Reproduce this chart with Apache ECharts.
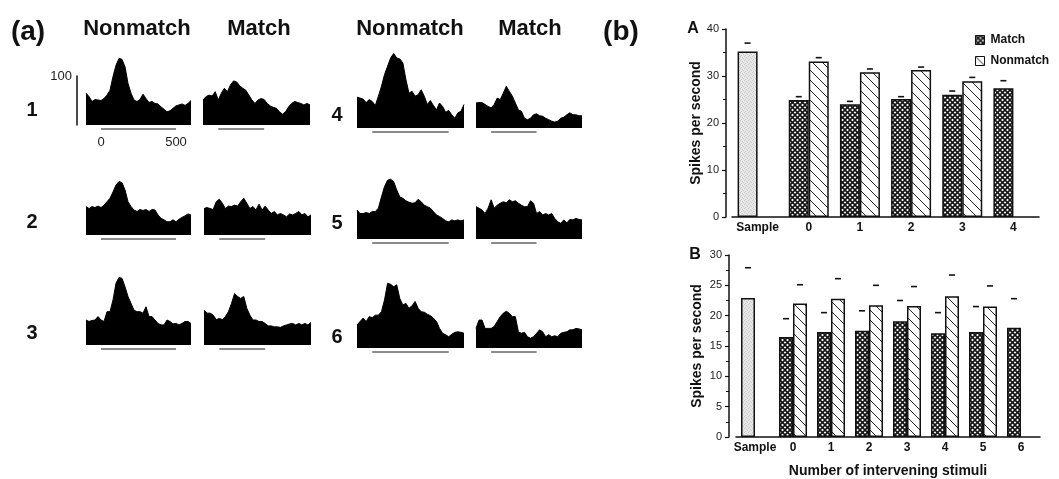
<!DOCTYPE html>
<html>
<head>
<meta charset="utf-8">
<script src="https://cdn.jsdelivr.net/npm/echarts@6/dist/echarts.min.js"></script>
<style>
  html, body { margin: 0; padding: 0; background: #fff; }
  #main { width: 1059px; height: 479px; }
</style>
</head>
<body>
<div id="main"></div>
<script>
// ---- panel (a): peri-stimulus histograms, spikes/s per 20 ms bin starting at -100 ms
var binStart = -100;
var binWidth = 20;
var stimNonmatch = [0, 500];
var stimMatch = [0, 300];

var nonmatch1 = [65,58,48,52,51,50,54,61,71,99,122,136,134,119,85,65,51,48,52,63,54,46,48,44,43,37,32,27,29,34,39,41,43,40,44,50];
var match1    = [51,58,61,59,68,51,65,75,68,82,90,88,80,75,71,61,51,44,51,54,52,44,39,36,34,27,22,27,37,44,48,46,44,41,44,41];
var nonmatch2 = [58,54,58,56,59,56,61,68,75,88,102,109,107,92,68,58,51,48,52,50,52,48,52,51,41,34,31,27,27,31,27,32,36,39,43,41];
var match2    = [54,56,54,52,68,73,65,54,59,58,61,59,68,75,65,54,58,51,63,51,59,51,44,48,41,44,41,37,43,41,44,48,41,44,37,41];
var nonmatch3 = [51,48,50,51,58,51,48,68,68,92,126,138,136,119,99,85,71,68,68,65,78,58,58,51,44,41,41,51,48,43,44,41,44,48,48,44];
var match3    = [71,65,65,61,52,54,52,58,68,85,105,99,95,99,75,61,51,51,48,48,44,39,39,37,37,36,39,41,43,44,41,44,41,44,41,46];
var nonmatch4 = [63,61,59,52,58,54,46,65,85,109,126,143,152,143,141,133,99,71,75,65,68,78,65,48,56,46,37,51,44,32,36,27,20,31,34,48];
var match4    = [51,52,52,48,44,41,48,61,58,71,85,75,65,51,37,34,20,17,20,27,29,25,24,20,17,14,12,14,20,22,27,31,27,27,25,25];
var nonmatch5 = [59,52,52,54,52,56,56,63,86,107,120,122,117,100,86,83,78,75,73,74,81,76,69,66,63,56,49,46,42,37,35,39,37,39,37,39];
var match5    = [66,63,59,52,63,80,63,69,73,76,74,80,76,78,73,69,66,66,78,73,52,56,49,52,49,52,42,35,32,39,33,40,39,42,40,39];
var nonmatch6 = [47,54,61,54,64,62,67,67,74,98,132,130,125,129,101,88,91,81,86,95,81,74,73,69,66,61,54,40,30,27,23,28,32,33,32,30];
var match6    = [40,57,57,40,40,40,44,54,64,71,75,71,64,64,33,30,32,23,20,23,30,37,33,23,27,23,25,23,30,32,33,37,37,40,39,37];

// ---- panel (b): mean spikes per second, error marks are mean + s.e.
var categoriesA = ['Sample', '0', '1', '2', '3', '4'];
var sampleA = 35.2, sampleErrA = 37.0;
var matchA = [24.9, 24.0, 25.1, 26.0, 27.4];
var matchErrA = [25.6, 24.6, 25.6, 26.8, 29.0];
var nonmatchA = [33.1, 30.8, 31.3, 28.9];
var nonmatchErrA = [33.9, 31.5, 31.9, 29.7];

var categoriesB = ['Sample', '0', '1', '2', '3', '4', '5', '6'];
var sampleB = 22.9, sampleErrB = 27.9;
var matchB = [16.5, 17.3, 17.5, 19.1, 17.1, 17.3, 18.0];
var matchErrB = [19.5, 20.5, 20.8, 22.5, 20.5, 21.5, 22.8];
var nonmatchB = [22.0, 22.8, 21.7, 21.6, 23.2, 21.5];
var nonmatchErrB = [25.1, 26.1, 25.0, 24.8, 26.7, 24.9];

var FONT = 'Liberation Sans, Arial, Helvetica, sans-serif';
var HIST_MAX = 160;
var PX_PER_100 = 49;
var H = HIST_MAX * PX_PER_100 / 100;

function makePattern(size, draw){
	var c = document.createElement('canvas');
	c.width = c.height = size;
	var ctx = c.getContext('2d');
	draw(ctx, size);
	return {image: c, repeat: 'repeat'};
}
function seg(ctx, x1, y1, x2, y2){
	ctx.beginPath(); ctx.moveTo(x1, y1); ctx.lineTo(x2, y2); ctx.stroke();
}
var crossHatch = makePattern(5, function(ctx, s){
	ctx.fillStyle = '#fff'; ctx.fillRect(0, 0, s, s);
	ctx.strokeStyle = '#151515'; ctx.lineWidth = 1.6;
	[-s, 0, s].forEach(function(o){
		seg(ctx, o, 0, o + s, s);
		seg(ctx, o, s, o + s, 0);
	});
});
var diagHatch = makePattern(10, function(ctx, s){
	ctx.fillStyle = '#fff'; ctx.fillRect(0, 0, s, s);
	ctx.strokeStyle = '#222'; ctx.lineWidth = 1;
	[-s, 0, s].forEach(function(o){ seg(ctx, o, 0, o + s, s); });
});
var stipple = makePattern(4, function(ctx, s){
	ctx.fillStyle = '#e8e8e8'; ctx.fillRect(0, 0, s, s);
	ctx.fillStyle = '#c9c9c9';
	ctx.fillRect(0, 0, 1, 1); ctx.fillRect(2, 1, 1, 1); ctx.fillRect(1, 3, 1, 1); ctx.fillRect(3, 2, 1, 1);
});

var panels = [
	{data: nonmatch1, left: 86,  width: 105, base: 125, stim: stimNonmatch},
	{data: match1,    left: 203, width: 107, base: 125, stim: stimMatch},
	{data: nonmatch2, left: 86,  width: 105, base: 235, stim: stimNonmatch},
	{data: match2,    left: 204, width: 107, base: 235, stim: stimMatch},
	{data: nonmatch3, left: 86,  width: 105, base: 345, stim: stimNonmatch},
	{data: match3,    left: 204, width: 107, base: 345, stim: stimMatch},
	{data: nonmatch4, left: 357, width: 107, base: 128, stim: stimNonmatch},
	{data: match4,    left: 476, width: 106, base: 128, stim: stimMatch},
	{data: nonmatch5, left: 357, width: 107, base: 239, stim: stimNonmatch},
	{data: match5,    left: 476, width: 106, base: 239, stim: stimMatch},
	{data: nonmatch6, left: 357, width: 107, base: 348, stim: stimNonmatch},
	{data: match6,    left: 476, width: 106, base: 348, stim: stimMatch}
];

var grid = [], xAxis = [], yAxis = [], series = [];

panels.forEach(function(p, i){
	grid.push({left: p.left, top: p.base - H, width: p.width, height: H});
	xAxis.push({
		type: 'value', gridIndex: i,
		min: binStart, max: binStart + (p.data.length - 1) * binWidth, interval: 100,
		show: i === 0,
		axisLine: {show: false}, axisTick: {show: false}, splitLine: {show: false},
		axisLabel: {
			margin: 11, fontSize: 13, fontFamily: FONT, color: '#222',
			formatter: function(v){ return (v === 0 || v === 500) ? String(v) : ''; }
		}
	});
	yAxis.push({type: 'value', gridIndex: i, min: 0, max: HIST_MAX, show: false, splitLine: {show: false}});
	series.push({
		type: 'line', xAxisIndex: i, yAxisIndex: i, silent: true,
		symbol: 'none', animation: false,
		lineStyle: {color: '#000', width: 1},
		areaStyle: {color: '#000', opacity: 1},
		data: p.data.map(function(v, k){ return [binStart + k * binWidth, v]; })
	});
	series.push({
		type: 'custom', xAxisIndex: i, yAxisIndex: i, silent: true, animation: false,
		encode: {x: [0, 1], y: 2},
		data: [[p.stim[0], p.stim[1], 0]],
		renderItem: function(params, api){
			var a = api.coord([api.value(0), api.value(2)]);
			var b = api.coord([api.value(1), api.value(2)]);
			return {type: 'line', shape: {x1: a[0], y1: a[1] + 4, x2: b[0], y2: b[1] + 4},
				style: {stroke: '#8a8a8a', lineWidth: 2}};
		}
	});
});

// scale bar (100 spikes/s) next to histogram 1
var sIdx = panels.length;
grid.push({left: 77, top: 125 - PX_PER_100, width: 1, height: PX_PER_100});
xAxis.push({type: 'value', gridIndex: sIdx, show: false});
yAxis.push({
	type: 'value', gridIndex: sIdx, min: 0, max: 100, interval: 100,
	axisLine: {show: true, lineStyle: {color: '#111', width: 1.5}},
	axisTick: {show: false}, splitLine: {show: false},
	axisLabel: {margin: 5, fontSize: 13, fontFamily: FONT, color: '#222',
		formatter: function(v){ return v === 100 ? '100' : ''; }}
});

// bar charts
function errSeries(name, xi, points, side, barW){
	return {
		type: 'custom', name: name + ' err', xAxisIndex: xi, yAxisIndex: xi, silent: true, animation: false,
		data: points,
		renderItem: function(params, api){
			var p = api.coord([api.value(0), api.value(1)]);
			var cx = p[0] + side * barW / 2;
			return {type: 'line', shape: {x1: cx - 3, y1: p[1], x2: cx + 3, y2: p[1]},
				style: {stroke: '#111', lineWidth: 1.6}};
		}
	};
}

function barChart(idx, cfg){
	grid.push(cfg.grid);
	xAxis.push({
		type: 'category', gridIndex: idx, data: cfg.categories,
		axisLine: {lineStyle: {color: '#111', width: 1.5}},
		axisTick: {show: false},
		axisLabel: {interval: 0, hideOverlap: false, margin: 5, fontSize: 12, fontWeight: 'bold', fontFamily: FONT, color: '#111'},
		name: cfg.xName || '', nameLocation: 'middle', nameGap: 27,
		nameTextStyle: {fontSize: 14, fontWeight: 'bold', fontFamily: FONT, color: '#111'}
	});
	yAxis.push({
		type: 'value', gridIndex: idx, min: 0, max: cfg.max, interval: cfg.interval,
		offset: cfg.offset,
		axisLine: {show: true, lineStyle: {color: '#111', width: 1.5}},
		axisTick: {show: true, length: 4, lineStyle: {color: '#111', width: 1.2}},
		minorTick: {show: true, splitNumber: 2, length: 3, lineStyle: {color: '#111', width: 1}},
		splitLine: {show: false},
		axisLabel: {margin: 7, fontSize: 11, fontFamily: FONT, color: '#222'},
		name: 'Spikes per second', nameLocation: 'middle', nameGap: cfg.nameGap,
		nameTextStyle: {fontSize: 14, fontWeight: 'bold', fontFamily: FONT, color: '#111'}
	});
	var n = cfg.categories.length;
	var matchData = [{value: cfg.sample, itemStyle: {color: stipple}}].concat(cfg.match);
	var nonData = ['-'].concat(cfg.nonmatch);
	while (nonData.length < n) nonData.push('-');
	series.push({
		type: 'bar', name: 'Match', xAxisIndex: idx, yAxisIndex: idx, animation: false,
		barWidth: cfg.barW, barGap: '0%',
		itemStyle: {color: crossHatch, borderColor: '#111', borderWidth: 1.5},
		data: matchData
	});
	series.push({
		type: 'bar', name: 'Nonmatch', xAxisIndex: idx, yAxisIndex: idx, animation: false,
		barWidth: cfg.barW, barGap: '0%',
		itemStyle: {color: diagHatch, borderColor: '#111', borderWidth: 1.5},
		data: nonData
	});
	var mErr = [[0, cfg.sampleErr]].concat(cfg.matchErr.map(function(v, k){ return [k + 1, v]; }));
	var nErr = cfg.nonmatchErr.map(function(v, k){ return [k + 1, v]; });
	series.push(errSeries('Match', idx, mErr, -1, cfg.barW));
	series.push(errSeries('Nonmatch', idx, nErr, 1, cfg.barW));
}

barChart(sIdx + 1, {
	grid: {left: 732, top: 29, width: 307, height: 188},
	categories: categoriesA, max: 40, interval: 10, offset: 6, nameGap: 22, barW: 20,
	sample: sampleA, sampleErr: sampleErrA,
	match: matchA, matchErr: matchErrA, nonmatch: nonmatchA, nonmatchErr: nonmatchErrA
});
barChart(sIdx + 2, {
	grid: {left: 736, top: 255, width: 304, height: 191},
	categories: categoriesB, max: 30, interval: 5, offset: 7, nameGap: 25, barW: 14,
	xName: 'Number of intervening stimuli',
	sample: sampleB, sampleErr: sampleErrB,
	match: matchB, matchErr: matchErrB, nonmatch: nonmatchB, nonmatchErr: nonmatchErrB
});

function txt(x, y, s, size, weight, align){
	return {type: 'text', x: x, y: y, silent: true,
		style: {text: s, fontSize: size, fontWeight: weight || 'bold', fontFamily: FONT, fill: '#111',
			textAlign: align || 'center', textVerticalAlign: 'middle'}};
}

var graphics = [
	txt(28, 32, '(a)', 28), txt(621, 32, '(b)', 28),
	txt(137, 29, 'Nonmatch', 22), txt(259, 29, 'Match', 22),
	txt(410, 29, 'Nonmatch', 22), txt(530, 29, 'Match', 22),
	txt(32, 110, '1', 20), txt(32, 222, '2', 20), txt(32, 333, '3', 20),
	txt(337, 115, '4', 20), txt(337, 223, '5', 20), txt(337, 337, '6', 20),
	txt(693, 29, 'A', 16), txt(695, 255, 'B', 16)
];

var chart = echarts.init(document.getElementById('main'), null, {renderer: 'canvas'});
chart.setOption({
	backgroundColor: '#fff',
	animation: false,
	grid: grid, xAxis: xAxis, yAxis: yAxis, series: series,
	legend: {
		data: ['Match', 'Nonmatch'], orient: 'vertical', left: 975, top: 34,
		icon: 'rect', itemWidth: 9, itemHeight: 9, itemGap: 9, padding: 0,
		itemStyle: {borderColor: '#111', borderWidth: 1},
		textStyle: {fontSize: 12, fontWeight: 'bold', fontFamily: FONT, color: '#111', padding: [0, 0, 0, 1]},
		selectedMode: false
	},
	graphic: graphics
});
</script>
</body>
</html>
